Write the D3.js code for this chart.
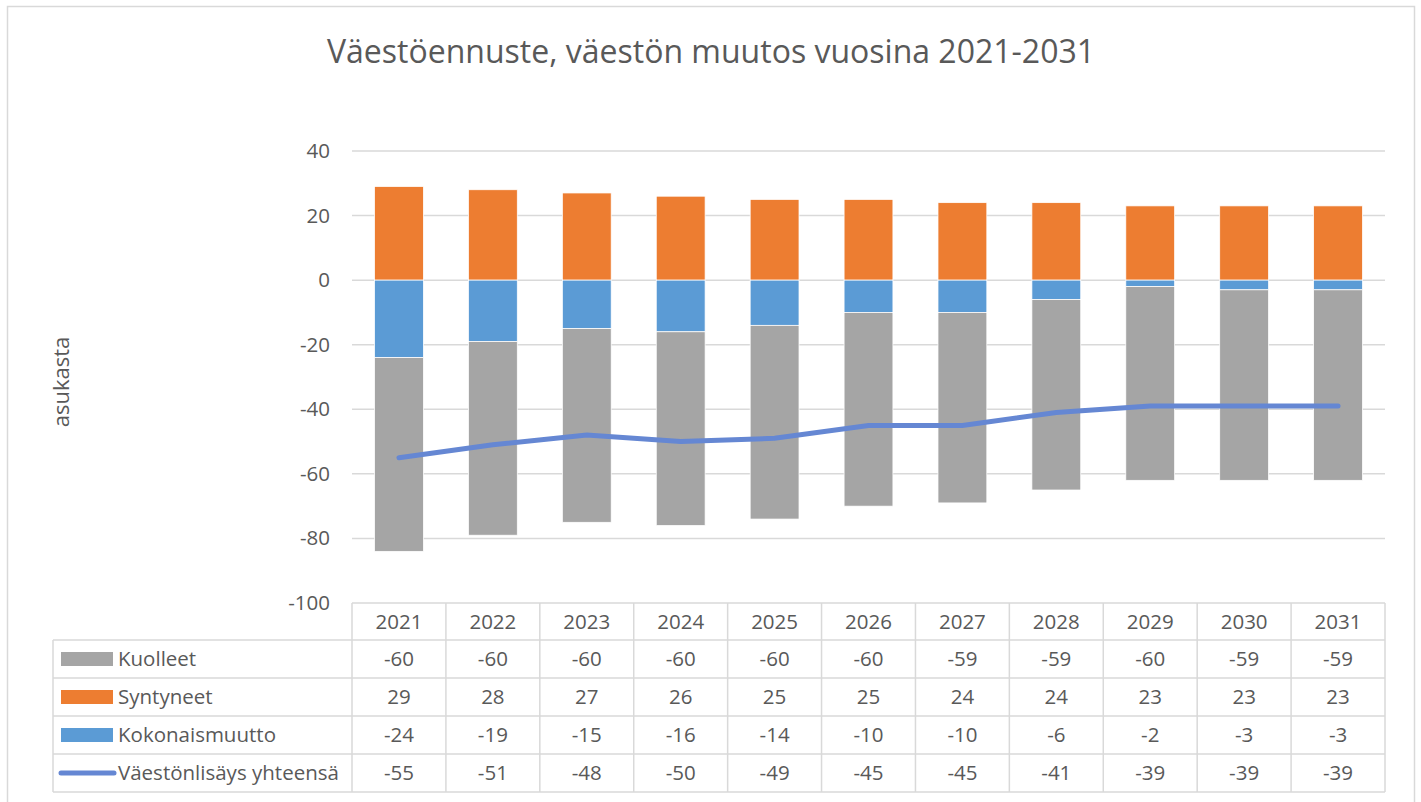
<!DOCTYPE html>
<html>
<head>
<meta charset="utf-8">
<script src="https://cdn.jsdelivr.net/npm/d3@7"></script>
<style>
  body { margin: 0; background: #fff; }
  text { font-family: 'Open Sans', 'Liberation Sans', sans-serif; fill: #595959; }
</style>
</head>
<body>
<svg id="chart"></svg>
<script>
const years = ['2021', '2022', '2023', '2024', '2025', '2026', '2027', '2028', '2029', '2030', '2031'];
const kuolleet = [-60, -60, -60, -60, -60, -60, -59, -59, -60, -59, -59];
const syntyneet = [29, 28, 27, 26, 25, 25, 24, 24, 23, 23, 23];
const kokonaismuutto = [-24, -19, -15, -16, -14, -10, -10, -6, -2, -3, -3];
const yhteensa = [-55, -51, -48, -50, -49, -45, -45, -41, -39, -39, -39];
const yTicks = [40, 20, 0, -20, -40, -60, -80, -100];

const width = 1421, height = 802;
const plotLeft = 352, plotRight = 1385, plotTop = 151, plotBottom = 603;
const tableLeft = 53, rowH = 38;
const fs = '20.5px';

const svg = d3.select('#chart')
  .attr('width', width)
  .attr('height', height);

// outer frame
svg.append('rect')
  .attr('x', 7.5).attr('y', 6.5)
  .attr('width', 1407).attr('height', 820)
  .attr('fill', 'none')
  .attr('stroke', '#d9d9d9')
  .attr('stroke-width', 1.5);

svg.append('text')
  .attr('x', 711).attr('y', 63)
  .attr('font-size', '32px')
  .style('text-anchor', 'middle')
  .text('Väestöennuste, väestön muutos vuosina 2021-2031');

const x = d3.scaleBand().domain(years).range([plotLeft, plotRight]).paddingInner(0.48).paddingOuter(0.24);
const col = d3.scaleBand().domain(years).range([plotLeft, plotRight]);
const y = d3.scaleLinear().domain([-100, 40]).range([plotBottom, plotTop]);

// gridlines
svg.append('g')
  .selectAll('line')
  .data(yTicks.filter(d => d !== -100))
  .enter()
  .append('line')
  .attr('x1', plotLeft).attr('x2', plotRight)
  .attr('y1', d => y(d)).attr('y2', d => y(d))
  .attr('stroke', '#d9d9d9')
  .attr('stroke-width', 1.5);

svg.append('g')
  .selectAll('text')
  .data(yTicks)
  .enter()
  .append('text')
  .attr('x', 330)
  .attr('y', d => y(d) + 7)
  .attr('font-size', fs)
  .style('text-anchor', 'end')
  .text(d => d);

svg.append('text')
  .attr('transform', 'translate(69, 382) rotate(-90)')
  .attr('font-size', '22px')
  .style('text-anchor', 'middle')
  .text('asukasta');

// stacked bars
const bars = svg.append('g');
years.forEach((yr, i) => {
  const segs = [
    { y0: 0, y1: syntyneet[i], c: '#ED7D31' },
    { y0: 0, y1: kokonaismuutto[i], c: '#5B9BD5' },
    { y0: kokonaismuutto[i], y1: kokonaismuutto[i] + kuolleet[i], c: '#A5A5A5' }
  ];
  bars.selectAll('.b' + i)
    .data(segs)
    .enter()
    .append('rect')
    .attr('x', x(yr))
    .attr('width', x.bandwidth())
    .attr('y', d => y(Math.max(d.y0, d.y1)))
    .attr('height', d => Math.abs(y(d.y0) - y(d.y1)))
    .attr('fill', d => d.c)
    .attr('stroke', '#fff')
    .attr('stroke-width', 0.75);
});

// total line
const line = d3.line()
  .x((d, i) => col(years[i]) + col.bandwidth() / 2)
  .y(d => y(d));

svg.append('path')
  .datum(yhteensa)
  .attr('d', line)
  .attr('fill', 'none')
  .attr('stroke', '#6587d3')
  .attr('stroke-width', 5)
  .attr('stroke-linecap', 'round');

// data table
const rows = [
  { name: 'Kuolleet', vals: kuolleet, c: '#A5A5A5', type: 'bar' },
  { name: 'Syntyneet', vals: syntyneet, c: '#ED7D31', type: 'bar' },
  { name: 'Kokonaismuutto', vals: kokonaismuutto, c: '#5B9BD5', type: 'bar' },
  { name: 'Väestönlisäys yhteensä', vals: yhteensa, c: '#6587d3', type: 'line' }
];
const table = svg.append('g');
const gridColor = '#d9d9d9';
const headTop = plotBottom, headH = 37;
const rowTop = headTop + headH;
const tableBottom = rowTop + rows.length * rowH;

// horizontal lines
table.append('line')
  .attr('x1', plotLeft).attr('x2', plotRight)
  .attr('y1', headTop).attr('y2', headTop)
  .attr('stroke', gridColor).attr('stroke-width', 1.5);
d3.range(rows.length + 1).forEach(k => {
  table.append('line')
    .attr('x1', tableLeft).attr('x2', plotRight)
    .attr('y1', rowTop + k * rowH).attr('y2', rowTop + k * rowH)
    .attr('stroke', gridColor).attr('stroke-width', 1.5);
});
// vertical lines
table.append('line')
  .attr('x1', tableLeft).attr('x2', tableLeft)
  .attr('y1', rowTop).attr('y2', tableBottom)
  .attr('stroke', gridColor).attr('stroke-width', 1.5);
years.forEach(yr => {
  table.append('line')
    .attr('x1', col(yr)).attr('x2', col(yr))
    .attr('y1', headTop).attr('y2', tableBottom)
    .attr('stroke', gridColor).attr('stroke-width', 1.5);
});
table.append('line')
  .attr('x1', plotRight).attr('x2', plotRight)
  .attr('y1', headTop).attr('y2', tableBottom)
  .attr('stroke', gridColor).attr('stroke-width', 1.5);

table.selectAll('.yr')
  .data(years)
  .enter()
  .append('text')
  .attr('x', d => col(d) + col.bandwidth() / 2)
  .attr('y', headTop + 26)
  .attr('font-size', fs)
  .style('text-anchor', 'middle')
  .text(d => d);

rows.forEach((r, k) => {
  const cy = rowTop + k * rowH + rowH / 2;
  if (r.type === 'bar') {
    table.append('rect')
      .attr('x', 61).attr('y', cy - 7)
      .attr('width', 52).attr('height', 14)
      .attr('fill', r.c);
  } else {
    table.append('line')
      .attr('x1', 61).attr('x2', 114)
      .attr('y1', cy).attr('y2', cy)
      .attr('stroke', r.c).attr('stroke-width', 5)
      .attr('stroke-linecap', 'round');
  }
  table.append('text')
    .attr('x', 118).attr('y', cy + 7)
    .attr('font-size', fs)
    .text(r.name);
  table.selectAll('.v' + k)
    .data(r.vals)
    .enter()
    .append('text')
    .attr('x', (d, i) => col(years[i]) + col.bandwidth() / 2)
    .attr('y', cy + 7)
    .attr('font-size', fs)
    .style('text-anchor', 'middle')
    .text(d => d);
});
</script>
</body>
</html>
